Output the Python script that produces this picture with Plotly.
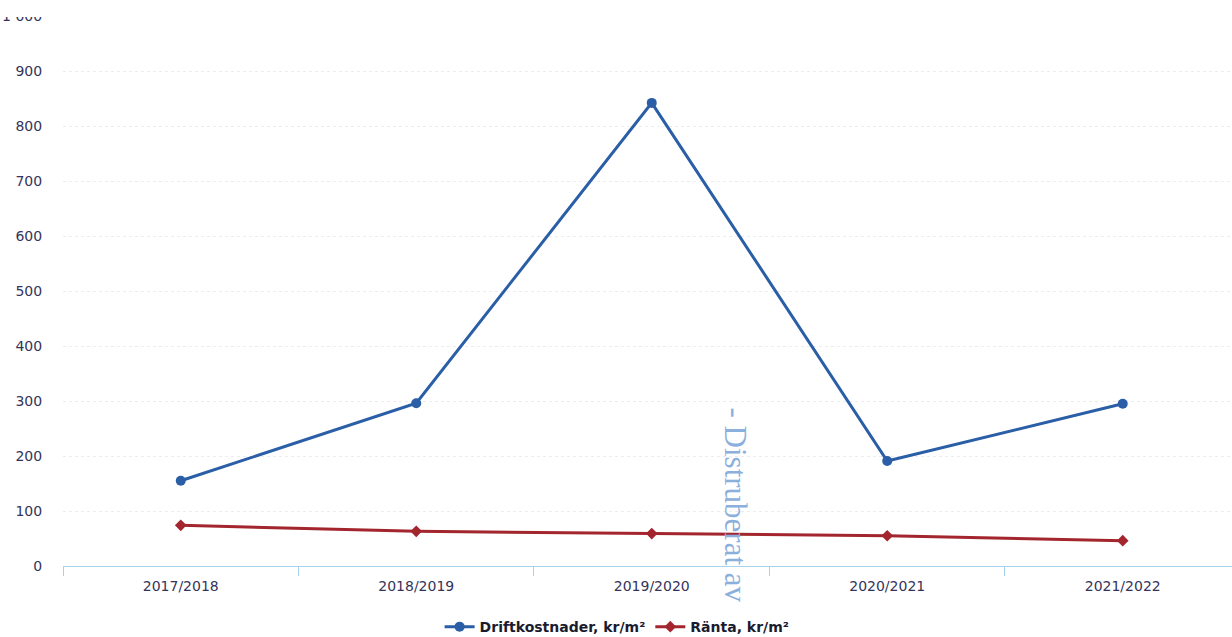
import plotly.graph_objects as go

categories = ["2017/2018", "2018/2019", "2019/2020", "2020/2021", "2021/2022"]
drift = [155, 296, 842, 191, 295]
ranta = [74, 63, 59, 55, 46]
y_ticks = [0, 100, 200, 300, 400, 500, 600, 700, 800, 900, 1000]
y_tick_text = ["0", "100", "200", "300", "400", "500", "600", "700", "800", "900", "1 000"]
watermark = "- Distruberat av"

fig = go.Figure()
fig.add_trace(go.Scatter(
    x=categories, y=drift, mode="lines+markers",
    name="Driftkostnader, kr/m²",
    line=dict(color="#2a5ea6", width=3),
    marker=dict(symbol="circle", size=10, color="#2a5ea6"),
))
fig.add_trace(go.Scatter(
    x=categories, y=ranta, mode="lines+markers",
    name="Ränta, kr/m²",
    line=dict(color="#a3262e", width=3),
    marker=dict(symbol="diamond", size=9, color="#a3262e"),
))

tick_font = dict(family="DejaVu Sans", size=14, color="#34345a")

fig.update_layout(
    width=1232, height=637,
    margin=dict(l=63, r=0, t=16, b=71, autoexpand=False),
    paper_bgcolor="white", plot_bgcolor="white",
    showlegend=True,
    legend=dict(
        orientation="h", x=0.474, xanchor="center", y=-0.111, yanchor="middle",
        font=dict(family="DejaVu Sans", size=14, color="#1b1b2e", weight="bold"),
        itemwidth=30, tracegroupgap=0,
    ),
    xaxis=dict(
        type="category", range=[-0.5, 4.464],
        showline=True, linecolor="#a9d2ec", linewidth=1,
        ticks="outside", tickson="boundaries", ticklen=9, tickcolor="#a9d2ec",
        ticklabelstandoff=7,
        showgrid=False, tickfont=tick_font, fixedrange=True,
    ),
    yaxis=dict(
        range=[0, 1000], tickmode="array", tickvals=y_ticks, ticktext=y_tick_text,
        showgrid=True, gridcolor="#ededf1", griddash="dot", gridwidth=1,
        zeroline=False, showline=False,
        ticks="outside", ticklen=17, tickcolor="rgba(0,0,0,0)",
        tickfont=tick_font,
    ),
    annotations=[dict(
        text=watermark, xref="paper", yref="paper",
        x=(735 - 63) / 1169, y=(566 - 405) / 550,
        xanchor="center", yanchor="top", textangle=90, showarrow=False,
        font=dict(family="Liberation Serif", size=31, color="#8bb0dc"),
    )],
    shapes=[dict(
        type="rect", xref="paper", yref="paper", layer="above",
        x0=-0.06, x1=0.05, y0=1.0 - 1 / 550, y1=1.03,
        fillcolor="white", line=dict(width=0),
    )],
)

fig.write_html("out.html")
